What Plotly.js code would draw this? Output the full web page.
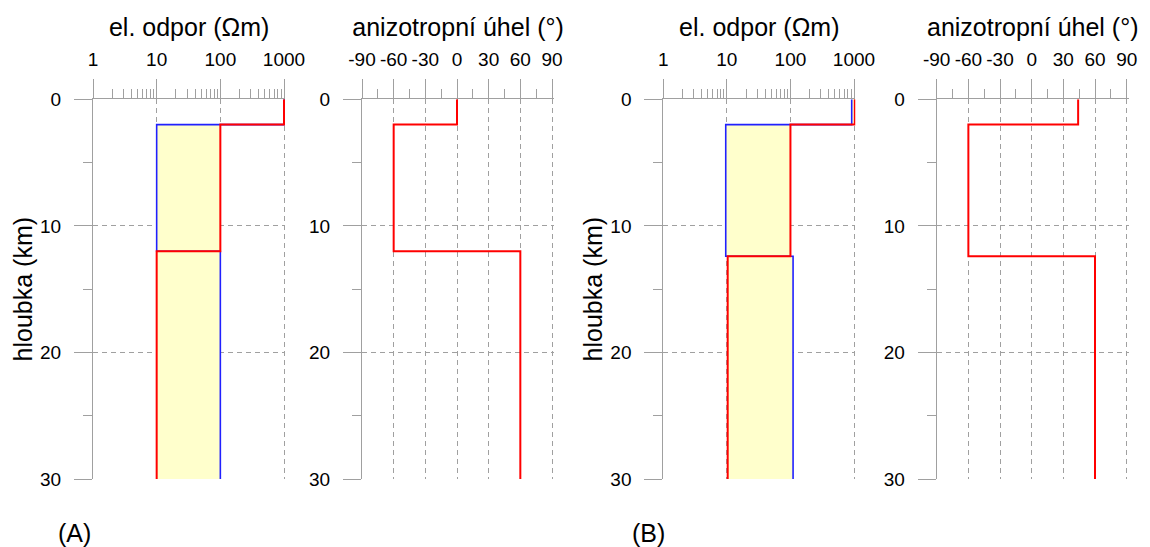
<!DOCTYPE html>
<html><head><meta charset="utf-8">
<script src="https://cdn.plot.ly/plotly-3.0.1.min.js"></script>
<style>html,body{margin:0;padding:0;background:#fff}</style>
</head><body><div id="chart" style="width:1150px;height:547px"></div>
<script>
// Layer boundaries (depth, km)
const depthA = [0, 2, 12, 30];
const depthB = [0, 2, 12.4, 30];
// Resistivity (Ohm m) per layer: two principal values
const resBlueA = [1000, 10, 100];
const resRedA  = [1000, 100, 10];
const resBlueB = [920, 9.6, 110];
const resRedB  = [1030, 100, 10.3];
// Anisotropy angle (deg) per layer
const angleA = [0, -60, 60];
const angleB = [44, -60, 60];
// Tick labels
const resTicks = [1, 10, 100, 1000];
const angleTicks = [-90, -60, -30, 0, 30, 60, 90];
const depthTicks = [0, 10, 20, 30];
const depthMinor = [5, 15, 25];
const angleMinor = [-75, -45, -15, 15, 45, 75];

function step(vals, depths) {
  const x = [], y = [];
  vals.forEach((v, i) => { x.push(v, v); y.push(depths[i], depths[i + 1]); });
  return {x, y};
}
function band(a, b, depths) {
  const s1 = step(a, depths), s2 = step(b, depths);
  return {x: s1.x.concat(s2.x.slice().reverse()), y: s1.y.concat(s2.y.slice().reverse())};
}
const resMinor = [];
[1, 10, 100].forEach(d => { for (let k = 2; k <= 9; k++) resMinor.push(d * k); });

const W = 1150, H = 547;
const fx = p => p / W;
const yDom = [(H - 479) / H, (H - 99.3) / H];
const grey = '#a0a0a0';
const FONT = 'Liberation Sans, Arial, sans-serif';
const BLUE = '#2020ff', RED = '#ff0000', FILL = '#ffffcc';
const TITLE_SIZE = 25, TICK_SIZE = 19;

function resAxis(l, r, anchor) {
  return {type: 'log', range: [0, 3.02], domain: [fx(l), fx(r)], anchor, side: 'top',
    showline: true, linecolor: grey, linewidth: 1,
    tickmode: 'array', tickvals: resTicks, ticktext: resTicks.map(String),
    ticks: 'outside', ticklen: 19, tickcolor: grey, tickwidth: 1,
    showgrid: true, gridcolor: grey, griddash: '5px,4px', gridwidth: 1,
    minor: {tickmode: 'array', tickvals: resMinor, ticks: 'outside', ticklen: 9, tickcolor: grey, showgrid: false},
    tickfont: {size: TICK_SIZE, color: '#000'}, ticklabelstandoff: 6, zeroline: false, fixedrange: true,
    title: {text: 'el. odpor (Ωm)', font: {size: TITLE_SIZE, color: '#000'}, standoff: 4}};
}
function angAxis(l, r, anchor) {
  return {range: [-90, 92], domain: [fx(l), fx(r)], anchor, side: 'top',
    showline: true, linecolor: grey, linewidth: 1,
    tickmode: 'array', tickvals: angleTicks, ticktext: angleTicks.map(String),
    ticks: 'outside', ticklen: 19, tickcolor: grey, tickwidth: 1,
    showgrid: true, gridcolor: grey, griddash: '5px,4px', gridwidth: 1,
    minor: {tickmode: 'array', tickvals: angleMinor, ticks: 'outside', ticklen: 9, tickcolor: grey, showgrid: false},
    tickfont: {size: TICK_SIZE, color: '#000'}, ticklabelstandoff: 6, zeroline: false, fixedrange: true,
    title: {text: 'anizotropní úhel (°)', font: {size: TITLE_SIZE, color: '#000'}, standoff: 4}};
}
function depthAxis(anchor, title) {
  return {range: [30, 0], domain: yDom, anchor,
    showline: true, linecolor: grey, linewidth: 1,
    tickmode: 'array', tickvals: depthTicks, ticktext: depthTicks.map(String),
    ticks: 'outside', ticklen: 18, tickcolor: grey, tickwidth: 1,
    showgrid: true, gridcolor: grey, griddash: '5px,4px', gridwidth: 1,
    minor: {tickmode: 'array', tickvals: depthMinor, ticks: 'outside', ticklen: 9, tickcolor: grey, showgrid: false},
    tickfont: {size: TICK_SIZE, color: '#000'}, ticklabelstandoff: 9, zeroline: false, fixedrange: true,
    title: {text: title, font: {size: TITLE_SIZE, color: '#000'}, standoff: 0}};
}

const traces = [];
function resPanel(blue, red, depths, xa, ya) {
  const b = band(blue, red, depths);
  traces.push({x: b.x, y: b.y, xaxis: xa, yaxis: ya, mode: 'lines', fill: 'toself', fillcolor: FILL,
    line: {width: 0, color: FILL}, hoverinfo: 'skip', showlegend: false});
  const sb = step(blue, depths), sr = step(red, depths);
  traces.push({x: sb.x, y: sb.y, xaxis: xa, yaxis: ya, mode: 'lines', line: {color: BLUE, width: 1.6}, showlegend: false});
  traces.push({x: sr.x, y: sr.y, xaxis: xa, yaxis: ya, mode: 'lines', line: {color: RED, width: 2}, showlegend: false});
}
function angPanel(ang, depths, xa, ya) {
  const s = step(ang, depths);
  traces.push({x: s.x, y: s.y, xaxis: xa, yaxis: ya, mode: 'lines', line: {color: RED, width: 2}, showlegend: false});
}
resPanel(resBlueA, resRedA, depthA, 'x', 'y');
angPanel(angleA, depthA, 'x2', 'y2');
resPanel(resBlueB, resRedB, depthB, 'x3', 'y3');
angPanel(angleB, depthB, 'x4', 'y4');

const layout = {
  width: W, height: H, margin: {l: 0, r: 0, t: 0, b: 0},
  paper_bgcolor: '#fff', plot_bgcolor: '#fff',
  font: {family: FONT, color: '#000'}, showlegend: false,
  xaxis: resAxis(93, 93 + 3.02 * 63.67, 'y'),
  xaxis2: angAxis(362, 362 + 182 * 190 / 180, 'y2'),
  xaxis3: resAxis(663.3, 663.3 + 3.02 * 63.57, 'y3'),
  xaxis4: angAxis(936.7, 936.7 + 182 * 190 / 180, 'y4'),
  yaxis: depthAxis('x', 'hloubka (km)'),
  yaxis2: depthAxis('x2', ''),
  yaxis3: depthAxis('x3', 'hloubka (km)'),
  yaxis4: depthAxis('x4', ''),
  annotations: [
    {text: '(A)', x: fx(74), y: (H - 533) / H, xref: 'paper', yref: 'paper', xanchor: 'center', yanchor: 'middle',
     showarrow: false, font: {size: 25, color: '#000'}},
    {text: '(B)', x: fx(648), y: (H - 533) / H, xref: 'paper', yref: 'paper', xanchor: 'center', yanchor: 'middle',
     showarrow: false, font: {size: 25, color: '#000'}}
  ]
};
Plotly.newPlot('chart', traces, layout, {displayModeBar: false, staticPlot: true});
</script></body></html>
